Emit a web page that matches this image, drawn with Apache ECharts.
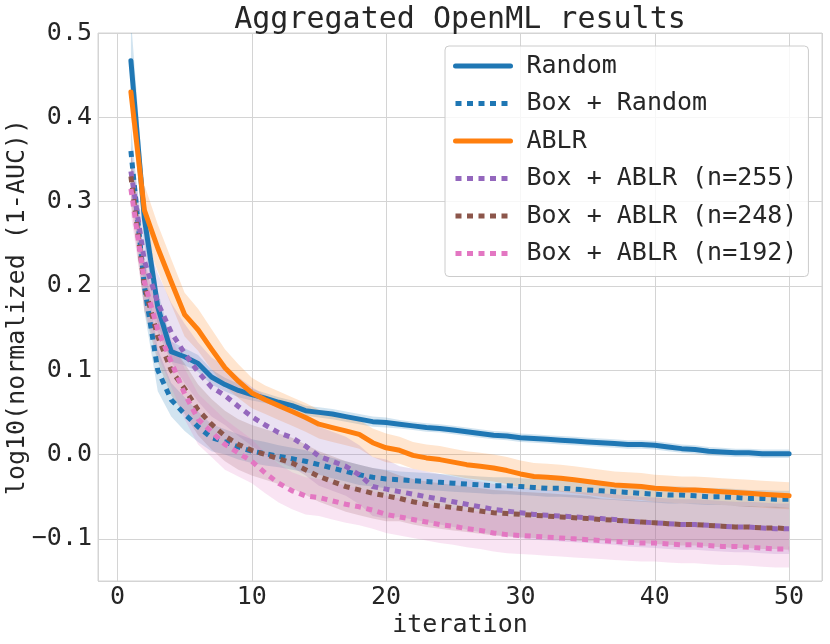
<!DOCTYPE html>
<html>
<head>
<meta charset="utf-8" />
<title>Aggregated OpenML results</title>
<script type="text/javascript" src="https://cdn.jsdelivr.net/npm/echarts@6.0.0/dist/echarts.min.js"></script>
<style type="text/css">
  html, body { margin: 0; padding: 0; background: #fff; }
  #main { width: 830px; height: 644px; }
</style>
</head>
<body>
<div id="main"></div>
<script type="text/javascript">
// iterations 1..50
var iterations = [1, 2, 3, 4, 5, 6, 7, 8, 9, 10, 11, 12, 13, 14, 15, 16, 17, 18, 19, 20,
  21, 22, 23, 24, 25, 26, 27, 28, 29, 30, 31, 32, 33, 34, 35, 36, 37, 38, 39, 40,
  41, 42, 43, 44, 45, 46, 47, 48, 49, 50];

// mean curves
var random = [0.467, 0.28, 0.175, 0.122, 0.116, 0.108, 0.092, 0.083, 0.076, 0.071,
  0.067, 0.062, 0.058, 0.052, 0.05, 0.048, 0.045, 0.042, 0.039, 0.038,
  0.036, 0.034, 0.032, 0.031, 0.029, 0.027, 0.025, 0.023, 0.022, 0.02,
  0.019, 0.018, 0.017, 0.016, 0.015, 0.014, 0.013, 0.012, 0.012, 0.011,
  0.009, 0.007, 0.006, 0.004, 0.003, 0.002, 0.002, 0.001, 0.001, 0.001];
var boxRandom = [0.36, 0.2, 0.1, 0.065, 0.048, 0.033, 0.02, 0.015, 0.009, 0.004,
  0.001, -0.002, -0.005, -0.008, -0.012, -0.016, -0.02, -0.024, -0.027, -0.029,
  -0.03, -0.031, -0.032, -0.033, -0.034, -0.035, -0.036, -0.037, -0.037, -0.038,
  -0.039, -0.04, -0.04, -0.041, -0.042, -0.043, -0.044, -0.045, -0.046, -0.047,
  -0.048, -0.048, -0.049, -0.05, -0.05, -0.051, -0.052, -0.052, -0.053, -0.053];
var ablr = [0.43, 0.29, 0.245, 0.205, 0.166, 0.148, 0.125, 0.103, 0.087, 0.073,
  0.065, 0.058, 0.051, 0.044, 0.036, 0.032, 0.028, 0.024, 0.014, 0.008,
  0.005, -0.001, -0.004, -0.006, -0.009, -0.012, -0.014, -0.016, -0.019, -0.023,
  -0.026, -0.027, -0.028, -0.03, -0.032, -0.034, -0.036, -0.037, -0.038, -0.04,
  -0.041, -0.042, -0.042, -0.043, -0.044, -0.045, -0.046, -0.047, -0.048, -0.049];
var box255 = [0.336, 0.23, 0.18, 0.145, 0.12, 0.098, 0.08, 0.07, 0.057, 0.045,
  0.035, 0.026, 0.02, 0.01, -0.002, -0.008, -0.014, -0.024, -0.038, -0.041,
  -0.044, -0.047, -0.05, -0.053, -0.056, -0.059, -0.062, -0.065, -0.067, -0.069,
  -0.071, -0.072, -0.073, -0.074, -0.075, -0.076, -0.077, -0.079, -0.08, -0.081,
  -0.082, -0.083, -0.083, -0.084, -0.085, -0.086, -0.086, -0.087, -0.088, -0.088];
var box248 = [0.33, 0.2, 0.14, 0.1, 0.078, 0.053, 0.036, 0.022, 0.012, 0.005,
  0.0, -0.005, -0.01, -0.018, -0.026, -0.032, -0.038, -0.042, -0.046, -0.049,
  -0.052, -0.056, -0.059, -0.061, -0.063, -0.065, -0.067, -0.069, -0.07, -0.071,
  -0.072, -0.073, -0.074, -0.075, -0.076, -0.077, -0.078, -0.079, -0.08, -0.081,
  -0.082, -0.083, -0.083, -0.084, -0.085, -0.086, -0.086, -0.087, -0.087, -0.088];
var box192 = [0.315, 0.205, 0.148, 0.11, 0.072, 0.042, 0.027, 0.012, 0.002, -0.008,
  -0.022, -0.034, -0.043, -0.049, -0.051, -0.055, -0.059, -0.062, -0.066, -0.071,
  -0.074, -0.077, -0.08, -0.083, -0.085, -0.088, -0.09, -0.093, -0.095, -0.096,
  -0.097, -0.098, -0.099, -0.1, -0.101, -0.102, -0.103, -0.104, -0.105, -0.105,
  -0.106, -0.107, -0.107, -0.108, -0.109, -0.109, -0.11, -0.111, -0.112, -0.112];

// half widths of the shaded bands
var randomSpread = [0.05, 0.03, 0.02, 0.012, 0.01, 0.01, 0.009, 0.008, 0.008, 0.007,
  0.006, 0.006, 0.006, 0.006, 0.006, 0.006, 0.006, 0.006, 0.006, 0.006,
  0.005, 0.005, 0.005, 0.005, 0.005, 0.005, 0.005, 0.005, 0.005, 0.005,
  0.005, 0.005, 0.005, 0.005, 0.005, 0.005, 0.005, 0.005, 0.005, 0.005,
  0.005, 0.005, 0.005, 0.005, 0.005, 0.005, 0.005, 0.005, 0.005, 0.005];
var boxRandomSpread = [0.03, 0.03, 0.025, 0.02, 0.02, 0.018, 0.016, 0.015, 0.015, 0.014,
  0.014, 0.013, 0.013, 0.013, 0.012, 0.012, 0.012, 0.012, 0.011, 0.011,
  0.01, 0.01, 0.01, 0.01, 0.01, 0.01, 0.01, 0.01, 0.01, 0.01,
  0.01, 0.01, 0.01, 0.01, 0.01, 0.01, 0.01, 0.01, 0.01, 0.01,
  0.01, 0.01, 0.01, 0.01, 0.01, 0.01, 0.01, 0.01, 0.01, 0.01];
var ablrSpread = [0.03, 0.03, 0.028, 0.027, 0.026, 0.025, 0.024, 0.022, 0.02, 0.018,
  0.017, 0.017, 0.017, 0.017, 0.017, 0.017, 0.017, 0.017, 0.017, 0.017,
  0.016, 0.016, 0.016, 0.016, 0.016, 0.016, 0.016, 0.016, 0.016, 0.016,
  0.016, 0.016, 0.016, 0.016, 0.016, 0.016, 0.016, 0.016, 0.016, 0.016,
  0.016, 0.016, 0.016, 0.016, 0.016, 0.016, 0.016, 0.016, 0.016, 0.016];
var box255Spread = [0.03, 0.03, 0.035, 0.035, 0.035, 0.035, 0.035, 0.035, 0.035, 0.035,
  0.035, 0.035, 0.035, 0.035, 0.035, 0.035, 0.035, 0.035, 0.035, 0.035,
  0.03, 0.03, 0.03, 0.03, 0.03, 0.03, 0.03, 0.03, 0.03, 0.03,
  0.03, 0.03, 0.03, 0.03, 0.03, 0.03, 0.03, 0.03, 0.03, 0.03,
  0.03, 0.03, 0.03, 0.03, 0.03, 0.03, 0.03, 0.03, 0.03, 0.03];
var box248Spread = [0.03, 0.03, 0.03, 0.03, 0.03, 0.03, 0.03, 0.03, 0.03, 0.03,
  0.03, 0.03, 0.03, 0.03, 0.03, 0.03, 0.03, 0.03, 0.03, 0.03,
  0.027, 0.027, 0.027, 0.027, 0.027, 0.027, 0.027, 0.027, 0.027, 0.027,
  0.027, 0.027, 0.027, 0.027, 0.027, 0.025, 0.025, 0.025, 0.025, 0.025,
  0.025, 0.025, 0.025, 0.025, 0.025, 0.025, 0.025, 0.025, 0.025, 0.025];
var box192Spread = [0.03, 0.03, 0.03, 0.03, 0.03, 0.03, 0.03, 0.03, 0.028, 0.026,
  0.024, 0.023, 0.022, 0.022, 0.022, 0.022, 0.022, 0.022, 0.022, 0.022,
  0.022, 0.022, 0.022, 0.022, 0.022, 0.022, 0.022, 0.022, 0.022, 0.022,
  0.022, 0.022, 0.022, 0.022, 0.022, 0.022, 0.022, 0.022, 0.022, 0.022,
  0.022, 0.022, 0.022, 0.022, 0.022, 0.022, 0.022, 0.022, 0.022, 0.022];

var names = ['Random', 'Box + Random', 'ABLR', 'Box + ABLR (n=255)', 'Box + ABLR (n=248)', 'Box + ABLR (n=192)'];
var means = [random, boxRandom, ablr, box255, box248, box192];
var spreads = [randomSpread, boxRandomSpread, ablrSpread, box255Spread, box248Spread, box192Spread];
var colors = ['#1f77b4', '#1f77b4', '#ff7f0e', '#9467bd', '#8c564b', '#e377c2'];
var dotted = [false, true, false, true, true, true];

var font = "'DejaVu Sans Mono', monospace";
var ink = '#262626';
var gridGray = '#d4d4d4';

function hexA(hex, a) {
  var n = parseInt(hex.slice(1), 16);
  return 'rgba(' + (n >> 16) + ',' + ((n >> 8) & 255) + ',' + (n & 255) + ',' + a + ')';
}

// one polygon per band, built from all [x, lo, hi] rows of the series
function bandRenderer(fill) {
  return function (params, api) {
    if (params.dataIndexInside !== 0) return null;
    var n = params.dataInsideLength;
    var top = [], bot = [];
    for (var j = 0; j < n; j++) {
      top.push(api.coord([api.value(0, j), api.value(2, j)]));
      bot.push(api.coord([api.value(0, j), api.value(1, j)]));
    }
    var cs = params.coordSys;
    return {
      type: 'group',
      clipPath: { type: 'rect', shape: { x: cs.x, y: cs.y, width: cs.width, height: cs.height } },
      children: [{
        type: 'polygon',
        shape: { points: top.concat(bot.reverse()) },
        style: { fill: fill, stroke: null }
      }]
    };
  };
}

var series = [];
for (var i = 0; i < names.length; i++) {
  var band = [], line = [];
  for (var k = 0; k < iterations.length; k++) {
    band.push([iterations[k], means[i][k] - spreads[i][k], means[i][k] + spreads[i][k]]);
    line.push([iterations[k], means[i][k]]);
  }
  series.push({
    name: 'band-' + i, type: 'custom', data: band, silent: true,
    encode: { x: 0, y: [1, 2] },
    renderItem: bandRenderer(hexA(colors[i], 0.2))
  });
  series.push({
    name: names[i], type: 'line', data: line, symbol: 'none', showSymbol: false, color: colors[i],
    lineStyle: {
      color: colors[i], width: 5,
      type: dotted[i] ? [6, 5.5] : 'solid',
      cap: dotted[i] ? 'butt' : 'round', join: 'round'
    }
  });
}

var myChart = echarts.init(document.getElementById('main'));
var option = {
  animation: false,
  backgroundColor: '#ffffff',
  title: {
    text: 'Aggregated OpenML results',
    left: 460, textAlign: 'center', top: 5, padding: 0,
    textStyle: { fontFamily: font, fontSize: 30, fontWeight: 'normal', color: ink }
  },
  legend: {
    data: names,
    orient: 'vertical',
    left: 445, top: 46,
    padding: [5, 11, 8, 8],
    itemWidth: 55, itemHeight: 14, itemGap: 7.5,
    backgroundColor: 'rgba(255,255,255,0.8)',
    borderColor: '#cccccc', borderWidth: 1, borderRadius: 4,
    itemStyle: { opacity: 0 },
    lineStyle: { width: 5 },
    textStyle: { fontFamily: font, fontSize: 25, color: ink, lineHeight: 30, padding: [0, 0, 0, 11] }
  },
  grid: {
    left: 98, top: 33, right: 8, bottom: 63,
    outerBoundsMode: 'none',
    show: true, borderColor: gridGray, borderWidth: 1
  },
  xAxis: {
    type: 'value', min: -1.45, max: 52.45,
    name: 'iteration', nameLocation: 'middle', nameGap: 32, nameMoveOverlap: false,
    nameTextStyle: { fontFamily: font, fontSize: 25, color: ink },
    axisLine: { show: false }, axisTick: { show: false },
    splitLine: { lineStyle: { color: gridGray, width: 1 } },
    axisLabel: {
      fontFamily: font, fontSize: 25, color: ink, margin: 4,
      formatter: function (v) { return Math.abs(v % 10) < 1e-6 ? String(v) : ''; }
    }
  },
  yAxis: {
    type: 'value', min: -0.15, max: 0.5,
    name: 'log10(normalized (1-AUC))', nameLocation: 'middle', nameGap: 68, nameMoveOverlap: false,
    nameTextStyle: { fontFamily: font, fontSize: 25, color: ink },
    axisLine: { show: false }, axisTick: { show: false },
    splitLine: { lineStyle: { color: gridGray, width: 1 } },
    axisLabel: {
      fontFamily: font, fontSize: 25, color: ink, margin: 6,
      formatter: function (v) {
        var r = Math.round(v * 10) / 10;
        if (Math.abs(v - r) > 1e-6) return '';
        return r.toFixed(1).replace('-', '\u2212');
      }
    }
  },
  series: series
};
myChart.setOption(option);
</script>
</body>
</html>
